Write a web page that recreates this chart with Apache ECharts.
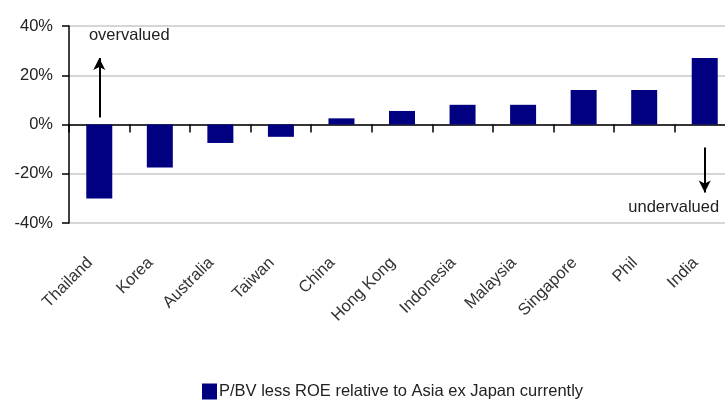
<!DOCTYPE html>
<html>
<head>
<meta charset="utf-8">
<script src="https://cdn.jsdelivr.net/npm/echarts@6/dist/echarts.min.js"></script>
<style>
  html, body { margin: 0; padding: 0; background: #fff; }
  #chart { width: 725px; height: 400px; }
</style>
</head>
<body>
<div id="chart"></div>
<script>
// Markets, ordered from most overvalued to most undervalued
const markets = ['Thailand', 'Korea', 'Australia', 'Taiwan', 'China', 'Hong Kong',
                 'Indonesia', 'Malaysia', 'Singapore', 'Phil', 'India'];
// P/BV less ROE relative to Asia ex Japan, in percent
const pbvLessRoe = [-30, -17.5, -7.5, -5, 2.5, 5.5, 8, 8, 14, 14, 27];
const seriesName = 'P/BV less ROE relative to Asia ex Japan currently';
const yTicks = { min: -40, max: 40, step: 20 };

const font = '"Liberation Sans", Arial, sans-serif';
const fs = 16.5;
const chart = echarts.init(document.getElementById('chart'), null, { renderer: 'canvas' });

chart.setOption({
  animation: false,
  grid: { left: 69, top: 26, width: 666, height: 197, containLabel: false, outerBoundsMode: 'none' },
  legend: {
    left: 202, top: 383, padding: 0,
    icon: 'rect', itemWidth: 15, itemHeight: 16, itemGap: 4,
    textStyle: { fontFamily: font, fontSize: fs, color: '#222', padding: [0, 0, 0, -3] },
    data: [seriesName]
  },
  xAxis: {
    type: 'category',
    data: markets,
    axisLine: { onZero: true, lineStyle: { color: '#000', width: 1.5 } },
    axisTick: { show: true, length: 8, lineStyle: { color: '#000', width: 1.5 } },
    axisLabel: {
      rotate: 45, margin: 28, interval: 0, padding: [0, 13, 0, 0],
      fontFamily: font, fontSize: fs, color: '#333'
    }
  },
  yAxis: {
    type: 'value',
    min: yTicks.min, max: yTicks.max, interval: yTicks.step,
    axisLine: { show: true, lineStyle: { color: '#000', width: 1.5 } },
    axisTick: { show: true, length: 7, lineStyle: { color: '#000', width: 1.5 } },
    axisLabel: { formatter: '{value}%', margin: 16, fontFamily: font, fontSize: fs, color: '#222' },
    splitLine: { lineStyle: { color: '#c8c8c8', width: 1.5 } }
  },
  series: [{
    name: seriesName,
    type: 'bar',
    data: pbvLessRoe,
    barWidth: 26,
    itemStyle: { color: '#000080' },
    markLine: {
      silent: true,
      symbol: ['none', 'arrow'],
      symbolSize: [9, 12],
      label: { show: false },
      lineStyle: { color: '#000', width: 2, type: 'solid' },
      data: [
        [{ coord: ['Thailand', 2.8] }, { coord: ['Thailand', 27] }],
        [{ coord: ['India', -9.3] }, { coord: ['India', -27.6] }]
      ]
    },
    markPoint: {
      silent: true,
      symbolSize: 0,
      label: { show: true, position: 'inside', fontFamily: font, fontSize: fs, color: '#222' },
      data: [
        { coord: ['Thailand', 36.2], value: 'overvalued', label: { formatter: 'overvalued', offset: [30, 0] } },
        { coord: ['India', -33.6], value: 'undervalued', label: { formatter: 'undervalued', offset: [-31, 0] } }
      ]
    }
  }]
});
</script>
</body>
</html>
